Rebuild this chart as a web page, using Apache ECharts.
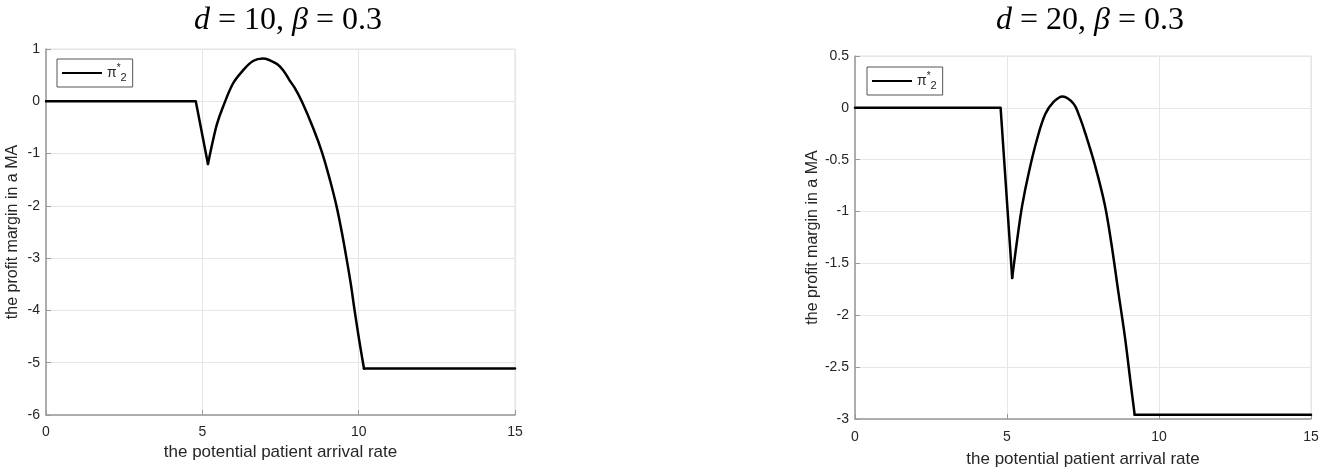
<!DOCTYPE html>
<html>
<head>
<meta charset="utf-8">
<script src="https://cdn.jsdelivr.net/npm/echarts@6/dist/echarts.min.js"></script>
<style>
  html, body { margin: 0; padding: 0; background: #fff; }
  #chart { width: 1325px; height: 473px; }
</style>
</head>
<body>
<div id="chart"></div>
<script>
// d = 10, beta = 0.3
var xLeft = [0, 4.79, 5.18, 5.34, 5.47, 5.66, 5.98, 6.30, 6.62, 6.94, 7.37, 7.59, 7.79, 7.95, 8.18, 8.55, 8.83, 9.08, 9.29, 9.46, 9.61, 9.75, 9.87, 10.02, 10.17, 15];
var yLeft = [0, 0, -1.20, -0.75, -0.43, -0.11, 0.34, 0.59, 0.77, 0.82, 0.72, 0.59, 0.40, 0.26, 0, -0.52, -0.98, -1.5, -2.0, -2.5, -3.0, -3.5, -4.0, -4.58, -5.11, -5.11];

// d = 20, beta = 0.3
var xRight = [0, 4.79, 5.17, 5.34, 5.50, 5.72, 5.99, 6.26, 6.54, 6.83, 7.19, 7.38, 7.57, 7.90, 8.22, 8.44, 8.66, 8.88, 9.07, 9.20, 15];
var yRight = [0, 0, -1.64, -1.26, -0.94, -0.62, -0.30, -0.06, 0.06, 0.11, 0.04, -0.08, -0.24, -0.56, -0.94, -1.32, -1.77, -2.21, -2.66, -2.96, -2.96];

var xTicks = [0, 5, 10, 15];
var titles = [['10', '0.3'], ['20', '0.3']];
var seriesName = 'pi2';

var myChart = echarts.init(document.getElementById('chart'));

function pairs(xs, ys) {
    return xs.map(function (x, i) { return [x, ys[i]]; });
}

// split at the sharp corners: flat + drop, smooth arc, flat tail
function pieces(xs, ys) {
    var all = pairs(xs, ys);
    var v = 1;
    while (v < ys.length - 1 && !(ys[v] < ys[v - 1] && ys[v] < ys[v + 1])) v++;
    var t = xs.length - 2;
    return [all.slice(0, v + 1), all.slice(v, t + 1), all.slice(t)];
}

function titleOf(t, cx) {
    return {
        text: '{i|d} = ' + t[0] + ', {i|β} = ' + t[1],
        left: cx,
        textAlign: 'center',
        top: 0,
        textStyle: {
            fontFamily: 'Liberation Serif',
            fontSize: 32,
            fontWeight: 'normal',
            color: '#000',
            rich: {
                i: { fontFamily: 'Liberation Serif', fontStyle: 'italic', fontSize: 32, color: '#000' }
            }
        }
    };
}

var axisCommon = {
    axisLine: { show: true, onZero: false, lineStyle: { color: '#999', width: 1.5 } },
    axisTick: { show: true, inside: true, length: 5, lineStyle: { color: '#999' } },
    splitLine: { show: true, lineStyle: { color: '#e6e6e6', width: 1 } },
    nameTextStyle: { fontFamily: 'Liberation Sans', fontSize: 17, color: '#262626' }
};

function xAxisOf(gi, nameGap, margin) {
    return Object.assign({}, axisCommon, {
        type: 'value', gridIndex: gi, min: 0, max: 15, interval: 5,
        name: 'the potential patient arrival rate',
        nameLocation: 'middle', nameGap: nameGap,
        axisLabel: { margin: margin, fontFamily: 'Liberation Sans', fontSize: 14, color: '#262626',
            formatter: function (v) { return xTicks.indexOf(v) >= 0 ? String(v) : ''; } }
    });
}

function yAxisOf(gi, min, max, interval) {
    return Object.assign({}, axisCommon, {
        type: 'value', gridIndex: gi, min: min, max: max, interval: interval,
        name: 'the profit margin in a MA',
        nameLocation: 'middle', nameGap: 25,
        nameTextStyle: { fontFamily: 'Liberation Sans', fontSize: 16, color: '#262626' },
        axisLabel: { margin: 6, fontFamily: 'Liberation Sans', fontSize: 14, color: '#262626' }
    });
}

function legendOf(left, top) {
    return {
        data: [seriesName],
        left: left, top: top,
        orient: 'vertical',
        icon: 'rect',
        itemWidth: 40, itemHeight: 2,
        itemGap: 0,
        padding: [4, 6, 4, 5],
        borderColor: '#555', borderWidth: 1,
        backgroundColor: '#fff',
        selectedMode: false,
        formatter: function () { return '{a|π}{s|*}{b|2}'; },
        textStyle: {
            color: '#262626',
            rich: {
                a: { fontFamily: 'Liberation Sans', fontSize: 14, lineHeight: 20, color: '#262626' },
                s: { fontFamily: 'Liberation Sans', fontSize: 10, lineHeight: 10, verticalAlign: 'top', color: '#262626' },
                b: { fontFamily: 'Liberation Sans', fontSize: 11, lineHeight: 11, verticalAlign: 'bottom', color: '#262626' }
            }
        }
    };
}

function lineSeries(gi, data, smooth) {
    return {
        name: seriesName, type: 'line', xAxisIndex: gi, yAxisIndex: gi,
        data: data, symbol: 'none', smooth: smooth,
        lineStyle: { color: '#000', width: 2.5, join: 'round', cap: 'round' },
        itemStyle: { color: '#000' }
    };
}

var series = [];
[[xLeft, yLeft], [xRight, yRight]].forEach(function (d, gi) {
    var p = pieces(d[0], d[1]);
    series.push(lineSeries(gi, p[0], false));
    series.push(lineSeries(gi, p[1], 0.35));
    series.push(lineSeries(gi, p[2], false));
});

var option = {
    backgroundColor: '#fff',
    animation: false,
    title: [titleOf(titles[0], 283), titleOf(titles[1], 1085)],
    legend: [legendOf(57, 59), legendOf(867, 67)],
    grid: [
        { left: 46, top: 49, width: 469, height: 366, show: true, borderColor: '#e0e0e0', borderWidth: 1 },
        { left: 855, top: 56, width: 456, height: 365, show: true, borderColor: '#e0e0e0', borderWidth: 1 }
    ],
    xAxis: [xAxisOf(0, 29, 10), xAxisOf(1, 32, 11)],
    yAxis: [yAxisOf(0, -6, 1, 1), yAxisOf(1, -3, 0.5, 0.5)],
    series: series
};

myChart.setOption(option);
</script>
</body>
</html>
